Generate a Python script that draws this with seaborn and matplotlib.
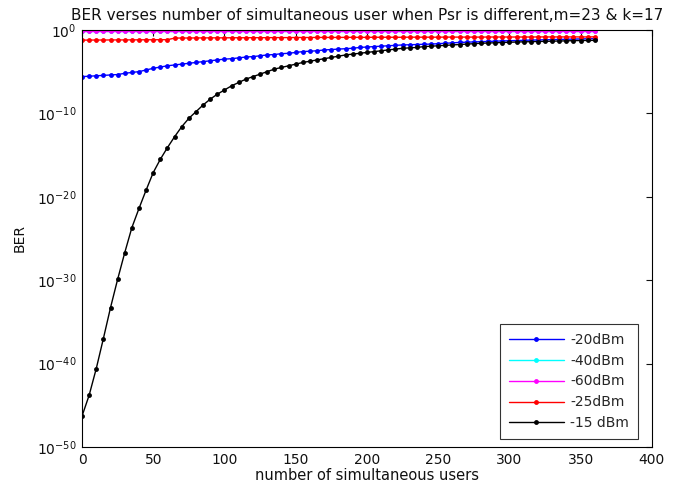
import matplotlib
matplotlib.use("Agg")
import matplotlib.pyplot as plt
import matplotlib.ticker as mticker
import numpy as np
import pandas as pd
import seaborn as sns

# number of simultaneous users (x) and log10(BER)
users = list(range(0, 361, 5))

exp_20dbm = [
    -5.6, -5.55, -5.5, -5.45, -5.4, -5.35, -5.2, -5.1, -5.0, -4.8,
    -4.6, -4.45, -4.3, -4.2, -4.1, -4.0, -3.9, -3.8, -3.7, -3.6,
    -3.5, -3.45, -3.35, -3.25, -3.2, -3.1, -3.0, -2.95, -2.85, -2.8,
    -2.7, -2.6, -2.55, -2.5, -2.4, -2.35, -2.3, -2.25, -2.2, -2.1,
    -2.05, -2.0, -1.95, -1.9, -1.85, -1.8, -1.78, -1.75, -1.72, -1.7,
    -1.65, -1.6, -1.55, -1.5, -1.47, -1.44, -1.41, -1.38, -1.35, -1.32,
    -1.3, -1.27, -1.25, -1.22, -1.2, -1.18, -1.16, -1.14, -1.12, -1.1,
    -1.08, -1.06, -1.05,
]
# -40 dBm sits right under the -60 dBm curve (hidden in the original)
exp_40dbm = [-0.17] * 73
exp_60dbm = [-0.15] * 73
exp_25dbm = [
    -1.22, -1.22, -1.21, -1.21, -1.2, -1.2, -1.2, -1.19, -1.19, -1.18,
    -1.18, -1.17, -1.17, -0.98, -0.97, -0.97, -0.96, -0.96, -0.95, -0.95,
    -0.95, -0.94, -0.94, -0.94, -0.93, -0.93, -0.93, -0.92, -0.92, -0.92,
    -0.91, -0.91, -0.91, -0.9, -0.9, -0.9, -0.9, -0.89, -0.89, -0.89,
    -0.89, -0.88, -0.88, -0.88, -0.88, -0.88, -0.87, -0.87, -0.87, -0.87,
    -0.87, -0.86, -0.86, -0.86, -0.86, -0.86, -0.86, -0.85, -0.85, -0.85,
    -0.85, -0.85, -0.85, -0.85, -0.84, -0.84, -0.84, -0.84, -0.84, -0.84,
    -0.84, -0.84, -0.83,
]
exp_15dbm = [
    -46.3, -43.8, -40.6, -37.0, -33.3, -29.9, -26.7, -23.7, -21.4, -19.2,
    -17.1, -15.5, -14.1, -12.8, -11.6, -10.6, -9.8, -9.0, -8.3, -7.7,
    -7.2, -6.7, -6.3, -5.9, -5.6, -5.3, -5.0, -4.7, -4.5, -4.3,
    -4.1, -3.9, -3.75, -3.6, -3.45, -3.3, -3.15, -3.0, -2.9, -2.8,
    -2.7, -2.6, -2.5, -2.4, -2.3, -2.2, -2.15, -2.1, -2.0, -1.95,
    -1.9, -1.85, -1.8, -1.75, -1.7, -1.65, -1.6, -1.57, -1.54, -1.51,
    -1.48, -1.45, -1.43, -1.41, -1.39, -1.37, -1.35, -1.33, -1.31, -1.29,
    -1.27, -1.26, -1.25,
]

labels = ["-20dBm", "-40dBm", "-60dBm", "-25dBm", "-15 dBm"]
colors = ["#0000ff", "#00ffff", "#ff00ff", "#ff0000", "#000000"]
series = [exp_20dbm, exp_40dbm, exp_60dbm, exp_25dbm, exp_15dbm]

sns.set_style("white")
plt.rcParams["font.family"] = ["DejaVu Sans"]
plt.rcParams["mathtext.fontset"] = "dejavusans"

fig = plt.figure(figsize=(6.8, 4.93), dpi=100)
ax = fig.add_axes([0.1206, 0.0933, 0.838, 0.846])

for label, color, exps in zip(labels, colors, series):
    df = pd.DataFrame({"users": users, "ber": 10.0 ** np.array(exps)})
    sns.lineplot(data=df, x="users", y="ber", color=color, marker=".",
                 markersize=7, markeredgewidth=0, linewidth=1.0,
                 label=label, ax=ax)

ax.set_yscale("log")
ax.set_xlim(0, 400)
ax.set_ylim(1e-50, 1e0)
ax.yaxis.set_major_locator(mticker.FixedLocator([1e-50, 1e-40, 1e-30, 1e-20, 1e-10, 1e0]))
ax.yaxis.set_minor_locator(mticker.NullLocator())
ax.set_xticks(range(0, 401, 50))
ax.tick_params(direction="in", length=4, width=0.8, top=True, right=True,
               labelsize=10, colors="#111111", pad=4)
for spine in ax.spines.values():
    spine.set_color("black")
    spine.set_linewidth(0.8)

ax.set_xlabel("number of simultaneous users", fontsize=10.5, labelpad=1, color="#111111")
ax.set_ylabel("BER", fontsize=10, labelpad=7, color="#111111")
ax.set_title("BER verses number of simultaneous user when Psr is different,m=23 & k=17",
             fontsize=11, pad=7, color="#111111")

leg = ax.legend(loc="lower right", bbox_to_anchor=(1 - 6 / 570, 0), fontsize=10,
                frameon=True, fancybox=False, edgecolor="black", borderpad=0.6,
                labelspacing=0.5, handlelength=4.0, handletextpad=0.45,
                borderaxespad=0.6)
leg.get_frame().set_linewidth(0.8)

fig.savefig("out.png", dpi=100)
